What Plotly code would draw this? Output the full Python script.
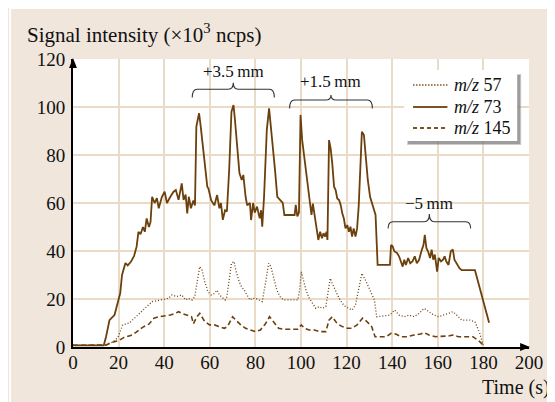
import plotly.graph_objects as go

# ---------------- data ----------------
t73 = [0, 13.5, 14.5, 16, 18.2, 19.7, 20.7, 21.5, 23, 24, 25.4, 26.8, 27.9, 28.7, 29.6, 30.7, 31.5,
       32.3, 33.3, 34, 34.7, 35.8, 36.8, 37.6, 39, 40.2, 41.2, 42.7, 44.1, 45.1, 46.3, 47.7, 48.5,
       49.4, 50.1, 50.8, 51.7, 52.8, 53.5, 54.1, 55.3, 56, 57, 58, 58.9, 59.4, 60.6, 62, 63.2,
       64.2, 64.9, 65.7, 66.7, 67.5, 68.5, 69.5, 70.4, 71, 72.1, 73, 74, 74.7, 75.7, 76.4, 77.6,
       78.1, 79, 79.7, 80.7, 81.9, 82.5, 83, 83.8, 85, 86, 86.7, 87.6, 88.6, 89.6, 90.8, 92,
       92.7, 97.2, 97.7, 98.4, 99.1, 99.8, 100.5, 101.6, 102.6, 103.4, 104, 104.6, 105.2, 105.9,
       106.6, 107.6, 108.4, 109.2, 109.9, 110.6, 111.2, 111.6, 112.3, 113, 113.7, 114.5, 115.2,
       115.9, 116.7, 117.4, 118.1, 118.8, 119.5, 120.3, 121, 121.7, 122.4, 123.1, 123.9, 124.6,
       125.3, 126, 126.7, 127.6, 128.4, 129.3, 130.3, 131.3, 132.2, 132.7, 133.6, 139, 139.5,
       140.2, 140.9, 142.1, 143, 143.8, 144.6, 145.3, 146, 147, 147.9, 148.9, 149.9, 150.8,
       151.8, 152.8, 153.7, 154.3, 155, 155.7, 156.6, 157.3, 158, 158.7, 159.7, 160.4, 161.4,
       162.3, 163, 163.7, 164.7, 165.7, 166.6, 167.3, 168.3, 169.5, 170.5, 176.3, 182.5]
v73 = [0.7, 0.7, 4.3, 11.2, 13.3, 18.3, 22.4, 30, 35, 34, 35.5, 38, 41.8, 48, 47, 50, 48,
       53.6, 50, 52, 62.6, 60, 62, 57.8, 62.6, 64.7, 60, 62.6, 64.7, 65.4, 61.3, 68.2, 61.3,
       63.5, 55.7, 62.6, 57.8, 61, 59, 91.8, 97.4, 92, 83.5, 75, 66.8, 66, 61.2, 59, 63.3,
       57.8, 60, 53, 57, 56.5, 73.8, 98, 100.8, 95, 80.7, 72.5, 69.6, 71.7, 62.6, 59, 60,
       52.9, 60, 56, 58.5, 53.6, 57, 50.1, 62.6, 90.4, 99.4, 93, 82.8, 73.8, 62.6, 61.2, 60,
       55, 55, 59.2, 54.4, 56, 96.7, 86.3, 78, 72.5, 65.4, 61, 55, 59.7, 55,
       51.5, 44.6, 48, 45.3, 47.4, 46, 48, 44.6, 86.2, 82.8, 76.6, 66.8, 65.4,
       61.9, 61.2, 59.2, 55.7, 53.6, 49.4, 50.8, 48, 50.1, 46, 49.4, 46, 49.4,
       58.5, 76.6, 89.7, 88.3, 79.3, 69.6, 62.6, 59.2, 55.7, 55, 34.2, 34.2, 42.5,
       42, 39.9, 39.2, 37.8, 35.7, 33.5, 36.4, 34.2, 37.1, 34.9, 35.7, 37.8, 34.9,
       36.3, 39.9, 42.5, 46.7, 41.2, 39.9, 37.1, 40.6, 36.4, 38.5, 31.4, 37.1, 35.7,
       36.4, 37.8, 35.7, 34.2, 39.9, 40.6, 36.4, 34.9, 32.8, 32, 32, 10.1]

t57 = [0, 14, 15.3, 17.5, 19.7, 21.8, 24.7, 27.6, 30.5, 33.4, 34.7, 36.9, 39, 41.9, 43.4, 45.5,
       47.7, 49.4, 50.5, 52.3, 53.4, 55.6, 56.6, 57.8, 59.2, 60.6, 62, 63.2, 64.2, 64.9, 65.7,
       66.7, 67.5, 68.5, 69.5, 70.7, 71.4, 72.9, 73.9, 75.1, 76.4, 77.6, 78.6, 80.1, 81.5, 83,
       84.4, 85.8, 86.8, 88, 89.4, 90.8, 92.3, 98.6, 99.4, 100.1, 101.1, 102.2, 103.6, 105.1,
       106.5, 108, 109.4, 110.9, 111.6, 112.8, 113.7, 115.2, 116.7, 118.1, 119.5, 121, 122.4,
       123.9, 125.3, 126.7, 128.2, 129.6, 131, 132.2, 133.2, 139, 141.1, 143, 145.3, 147.4,
       149.6, 151.8, 154, 156.1, 158.3, 160.4, 162.6, 164.7, 166.6, 168.3, 170.5, 174.1, 176.3,
       178.4, 179.9]
v57 = [0.7, 0.7, 1.5, 2, 4, 9.2, 10, 12.6, 15, 17.5, 18.9, 19.3, 19.7, 20.3, 21.7, 21,
       21.7, 19.6, 20.3, 19.6, 21, 33.5, 32, 27.2, 23, 21.7, 22.3, 23.7, 21.7, 21, 20.3,
       19.6, 21, 28, 34.9, 35.6, 32, 27.2, 25.1, 23.7, 21.7, 19.6, 20.3, 20.3, 19.6, 18.9,
       26.5, 34.9, 33.5, 29.3, 23.7, 21, 19.6, 19.6, 23.7, 31.4, 28, 23.7, 20.3, 18.2,
       16.1, 16.8, 16.1, 16.8, 21, 28.6, 26.5, 23, 20.3, 18.2, 16.8, 16.1, 15.4,
       17.5, 23.7, 30.7, 28, 25.1, 22.3, 19.6, 12.6, 13.3, 15.4, 13.3, 12.6, 13.3,
       12.6, 14, 16.1, 14.7, 13.3, 12.6, 13.3, 14, 14.7, 13.3, 11.2, 11.2, 10.5,
       5.7, 0.8]

t145 = [0, 13.5, 14.4, 17.3, 20.2, 22.4, 25.3, 27.6, 30.5, 33.4, 35.5, 37.6, 40.5, 42.7, 44.8,
        46.3, 47.7, 49.9, 52, 52.8, 54.3, 55.6, 57.8, 59.9, 62, 64.2, 66.4, 67.8, 70, 71.4,
        73.6, 75.7, 77.9, 80.1, 82.2, 84.4, 86.2, 88, 90.2, 92.3, 98.5, 100.1, 101.6, 103.6,
        105.9, 108, 110.9, 112.3, 113.7, 115.9, 118.1, 120.3, 122.4, 124.6, 127, 128.9, 131,
        132.5, 137.5, 139.5, 141.6, 143.8, 146.7, 149.6, 152.5, 154, 156.1, 159, 161.9, 164.7,
        166.6, 169, 172.6, 175.4, 178.4, 179.9]
v145 = [0.7, 0.7, 0.8, 2, 2.7, 4, 4.8, 6.1, 8.2, 9.6, 12, 12.6, 12.9, 13.3, 14,
        14.7, 14, 13.3, 12.6, 9.7, 12.6, 14, 10.6, 9.2, 9.2, 8.5, 7.8, 8.5, 12.6, 11.2,
        9.2, 7.8, 7.1, 6.4, 7.1, 9.7, 12.6, 10.6, 7.8, 7.4, 7.4, 9.2, 7.8, 7.1,
        7.1, 6.4, 6.4, 11.2, 12.6, 9.7, 8.5, 7.8, 7.8, 9.2, 12, 10.6, 8.5,
        4.3, 4.3, 5.7, 5.4, 4.3, 4.3, 5, 5.4, 6, 5, 4.3, 4.3, 4.6,
        5, 4.3, 4.3, 4.3, 2.2, 0.8]

series_names = ["<i>m/z</i> 57", "<i>m/z</i> 73", "<i>m/z</i> 145"]
x_ticks = [0, 20, 40, 60, 80, 100, 120, 140, 160, 180, 200]
y_ticks = [0, 20, 40, 60, 80, 100, 120]

# braces: (label, start, end, line level, tip level, end level, label y)
braces = [
    ("+3.5\u2009mm", 52.3, 88.3, 107.4, 110.1, 104.0, 115.0),
    ("+1.5\u2009mm", 95.0, 131.3, 102.9, 105.0, 99.4, 110.5),
    ("\u22125\u2009mm", 138.2, 174.4, 52.2, 55.4, 49.4, 59.9),
]

# ---------------- style ----------------
BROWN = "#6b400c"
LEG_BROWN = "#7d5420"
BEIGE = "#f0e6dc"
GRID = "#eadbc9"
FONT = "Liberation Serif"
dashes = ["1px,2px", "solid", "5px,3px"]
leg_dashes = ["1.5px,1.5px", "solid", "4px,3px"]
widths = [1.3, 1.8, 1.6]

W, H = 547, 394          # page has an 8 px body margin
OFF = 8
L, R, T, B = 65, 18, 51, 55
pw, ph = W - L - R, H - T - B


def px_x(sx):  # screen pixel -> paper x
    return (sx - OFF - L) / pw


def px_y(sy):  # screen pixel -> paper y
    return (H - B - (sy - OFF)) / ph


fig = go.Figure()
for name, tx, vy, d, w in zip(series_names, [t57, t73, t145], [v57, v73, v145], dashes, widths):
    fig.add_trace(go.Scatter(x=tx, y=vy, mode="lines", name=name, showlegend=False,
                             line=dict(color=BROWN, width=w, dash=d)))

shapes = [
    dict(type="rect", xref="paper", yref="paper", x0=px_x(OFF), x1=px_x(10),
         y0=px_y(H + OFF), y1=px_y(OFF), fillcolor="white", line_width=0, layer="below"),
    dict(type="rect", xref="paper", yref="paper", x0=px_x(OFF), x1=px_x(W + OFF),
         y0=px_y(9), y1=px_y(OFF), fillcolor="white", line_width=0, layer="below"),
    # axis arrowheads
    dict(type="path", xref="paper", yref="paper", fillcolor="black", line=dict(width=0),
         path=f"M {px_x(538)},{px_y(347)} L {px_x(528)},{px_y(351)} L {px_x(528)},{px_y(343)} Z"),
    dict(type="path", xref="paper", yref="paper", fillcolor="black", line=dict(width=0),
         path=f"M {px_x(73)},{px_y(58)} L {px_x(69)},{px_y(68)} L {px_x(77)},{px_y(68)} Z"),
    # legend shadow and box
    dict(type="rect", xref="paper", yref="paper", x0=px_x(413), x1=px_x(529),
         y0=px_y(145), y1=px_y(74), fillcolor="rgba(140,140,140,0.45)", line_width=0),
    dict(type="rect", xref="paper", yref="paper", x0=px_x(414), x1=px_x(528),
         y0=px_y(144), y1=px_y(75), fillcolor="rgba(110,110,110,0.5)", line_width=0),
    dict(type="rect", xref="paper", yref="paper", x0=px_x(410), x1=px_x(525),
         y0=px_y(141), y1=px_y(70), fillcolor="white", line_width=0),
]

annotations = []
leg_rows = [85, 107, 128]
for name, d, w, yy in zip(series_names, leg_dashes, widths, leg_rows):
    shapes.append(dict(type="line", xref="paper", yref="paper", x0=px_x(419), x1=px_x(454),
                       y0=px_y(yy), y1=px_y(yy),
                       line=dict(color=LEG_BROWN, width=w + 0.2, dash=d)))
    annotations.append(dict(x=px_x(459), y=px_y(yy), xref="paper", yref="paper", text=name,
                            showarrow=False, xanchor="left", yanchor="middle",
                            font=dict(family=FONT, size=18, color="#111")))

for label, x0, x1, yl, yt, ye, ylab in braces:
    xm = (x0 + x1) / 2
    r = (x1 - x0) * 0.06
    path = (f"M {x0},{ye} Q {x0},{yl} {x0 + r},{yl} L {xm - r},{yl} "
            f"Q {xm},{yl} {xm},{yt} Q {xm},{yl} {xm + r},{yl} L {x1 - r},{yl} "
            f"Q {x1},{yl} {x1},{ye}")
    shapes.append(dict(type="path", xref="x", yref="y", path=path,
                       line=dict(color="#333333", width=1.1)))
    annotations.append(dict(x=xm, y=ylab, xref="x", yref="y", text=label, showarrow=False,
                            font=dict(family=FONT, size=17, color="#111"),
                            xanchor="center", yanchor="middle"))

annotations.append(dict(x=px_x(24), y=px_y(33), xref="paper", yref="paper",
                        text="Signal intensity (×10<sup>3</sup> ncps)", showarrow=False,
                        xanchor="left", yanchor="middle",
                        font=dict(family=FONT, size=21, color="#111")))
annotations.append(dict(x=px_x(560), y=px_y(387), xref="paper", yref="paper",
                        text="Time (s)", showarrow=False, xanchor="right", yanchor="middle",
                        font=dict(family=FONT, size=20, color="#111")))

fig.update_layout(
    width=W, height=H,
    margin=dict(l=L, r=R, t=T, b=B, pad=0),
    paper_bgcolor=BEIGE, plot_bgcolor="white",
    showlegend=False,
    shapes=shapes, annotations=annotations,
    font=dict(family=FONT, size=18, color="#111"),
)
fig.update_xaxes(range=[0, 200], tickvals=x_ticks, ticktext=[str(v) for v in x_ticks],
                 showgrid=True, gridcolor=GRID, gridwidth=2, showline=True, linecolor="black",
                 linewidth=2, ticks="", zeroline=False, ticklabelstandoff=-3,
                 tickfont=dict(family=FONT, size=19, color="#111"))
fig.update_yaxes(range=[0, 120], tickvals=y_ticks, ticktext=[str(v) for v in y_ticks],
                 showgrid=True, gridcolor=GRID, gridwidth=2, showline=True, linecolor="black",
                 linewidth=2, ticks="", zeroline=False, ticklabelstandoff=2,
                 tickfont=dict(family=FONT, size=19, color="#111"))

fig.write_html("out.html")
